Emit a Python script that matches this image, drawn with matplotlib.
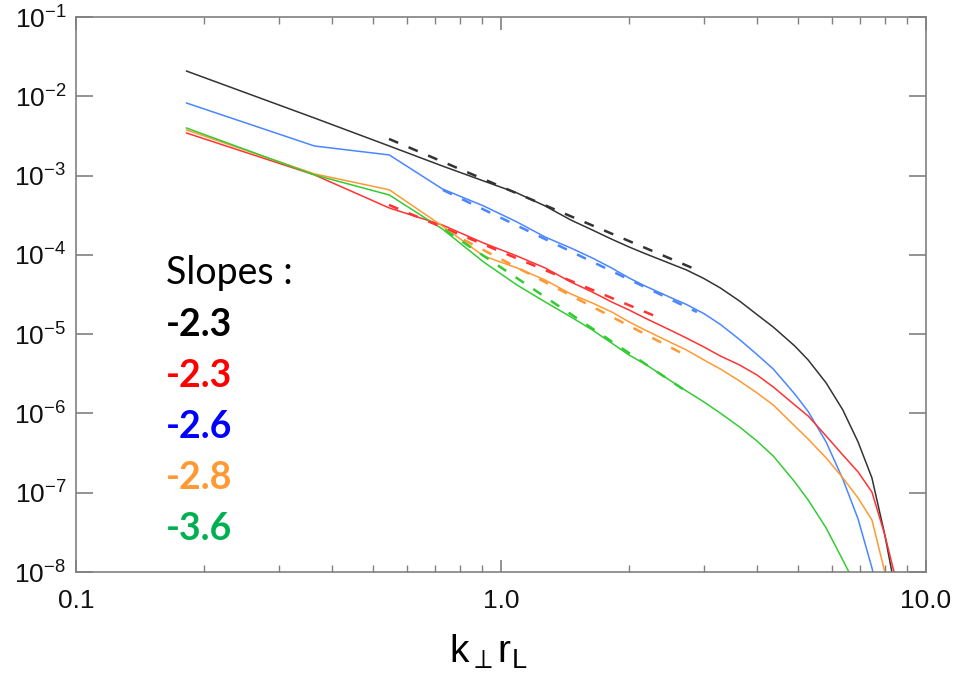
import numpy as np
import matplotlib
matplotlib.use('Agg')
import matplotlib.pyplot as plt

plt.rcParams['font.family'] = ['Liberation Sans', 'DejaVu Sans']
plt.rcParams['mathtext.fontset'] = 'custom'
plt.rcParams['mathtext.rm'] = 'Liberation Sans'
plt.rcParams['mathtext.it'] = 'Liberation Sans'

# k_perp * r_L values
k = [0.182, 0.364, 0.546, 0.728, 0.91, 1.09, 1.27, 1.46, 1.64, 1.82, 2.0, 2.18,
     2.55, 2.73, 3.0, 3.28, 3.64, 4.0, 4.37, 4.91, 5.28, 5.82, 6.37, 6.92, 7.46,
     8.0, 8.45]

black = [2.08e-2, 5.32e-3, 2.36e-3, 1.32e-3, 8.55e-4, 6.04e-4, 4.14e-4, 2.75e-4,
         2.06e-4, 1.58e-4, 1.26e-4, 1.04e-4, 7.46e-5, 6.46e-5, 5.04e-5, 3.83e-5,
         2.62e-5, 1.77e-5, 1.23e-5, 7.10e-6, 4.73e-6, 2.43e-6, 1.11e-6, 4.37e-7,
         1.54e-7, 2.94e-8, 6.3e-9]
blue = [8.22e-3, 2.36e-3, 1.82e-3, 6.78e-4, 4.14e-4, 2.60e-4, 1.68e-4, 1.22e-4,
        9.14e-5, 6.84e-5, 5.12e-5, 4.06e-5, 2.78e-5, 2.37e-5, 1.82e-5, 1.33e-5,
        8.57e-6, 5.55e-6, 3.64e-6, 1.76e-6, 1.06e-6, 4.37e-7, 1.49e-7, 4.68e-8,
        1.13e-8, 2.49e-9]
red = [3.44e-3, 1.02e-3, 3.90e-4, 2.38e-4, 1.41e-4, 9.68e-5, 6.84e-5, 4.55e-5,
       3.40e-5, 2.55e-5, 2.02e-5, 1.60e-5, 1.07e-5, 8.95e-6, 6.90e-6, 5.31e-6,
       4.09e-6, 3.06e-6, 2.16e-6, 1.28e-6, 9.29e-7, 5.20e-7, 3.00e-7, 1.83e-7,
       1.02e-7, 2.94e-8, 9.0e-9]
orange = [3.76e-3, 1.05e-3, 6.61e-4, 2.31e-4, 9.68e-5, 6.84e-5, 4.82e-5, 3.21e-5,
          2.47e-5, 1.91e-5, 1.43e-5, 1.13e-5, 7.52e-6, 6.32e-6, 4.73e-6, 3.64e-6,
          2.57e-6, 1.82e-6, 1.28e-6, 6.95e-7, 4.76e-7, 2.75e-7, 1.54e-7, 8.59e-8,
          4.54e-8, 1.00e-8, 2.5e-9]
green = [3.98e-3, 1.02e-3, 5.69e-4, 2.12e-4, 8.13e-5, 4.17e-5, 2.55e-5, 1.65e-5,
         1.13e-5, 7.74e-6, 5.47e-6, 4.21e-6, 2.43e-6, 1.92e-6, 1.40e-6, 1.01e-6,
         6.76e-7, 4.50e-7, 2.91e-7, 1.37e-7, 8.11e-8, 3.60e-8, 1.42e-8, 5.94e-9]

# power-law fits (dashed), end points
fit_x = {'black': [0.545, 2.89], 'blue': [0.730, 2.89], 'red': [0.545, 2.33],
         'orange': [0.738, 2.71], 'green': [0.738, 2.74]}
fit_y = {'black': [2.9e-3, 6.46e-5], 'blue': [6.58e-4, 1.9e-5], 'red': [4.26e-4, 1.65e-5],
         'orange': [2.06e-4, 5.47e-6], 'green': [2.06e-4, 1.87e-6]}

slopes = ['-2.3', '-2.3', '-2.6', '-2.8', '-3.6']
slope_colors = ['#000000', '#ff0000', '#0000ff', '#ff9933', '#00b050']

xticks = [0.1, 1.0, 10.0]
xticklabels = ['0.1', '1.0', '10.0']
yticks = [1e-8, 1e-7, 1e-6, 1e-5, 1e-4, 1e-3, 1e-2, 1e-1]
yticklabels = [r'$\mathregular{10^{-%d}}$' % n for n in range(8, 0, -1)]

line_colors = {'black': '#333333', 'blue': '#4a86ff', 'red': '#ff3333',
               'orange': '#ff9933', 'green': '#33cc33'}

fig = plt.figure(figsize=(9.56, 6.77), dpi=100)
ax = fig.add_axes([76 / 956, 1 - 572 / 677, 850 / 956, 555 / 677])

series = {'black': black, 'blue': blue, 'red': red, 'orange': orange, 'green': green}
for name in ['black', 'blue', 'red', 'orange', 'green']:
    y = series[name]
    ax.plot(k[:len(y)], y, color=line_colors[name], lw=1.1)
for name in ['black', 'blue', 'red', 'orange', 'green']:
    ax.plot(fit_x[name], fit_y[name], color=line_colors[name], lw=1.8,
            dashes=(4, 4.5))

ax.set_xscale('log')
ax.set_yscale('log')
ax.set_xlim(0.1, 10)
ax.set_ylim(1e-8, 1e-1)
ax.set_xticks(xticks)
ax.set_xticklabels(xticklabels)
ax.set_yticks(yticks)
ax.set_yticklabels(yticklabels)
ax.yaxis.set_minor_locator(matplotlib.ticker.NullLocator())

for s in ax.spines.values():
    s.set_color('#808080')
    s.set_linewidth(1.2)
ax.tick_params(which='both', direction='in', colors='#808080', labelcolor='#111111',
               top=True, right=True, labelsize=19)
ax.tick_params(axis='y', which='major', length=12, width=1.2, pad=7)
ax.tick_params(axis='x', which='major', length=9, width=1.2, pad=12)
ax.tick_params(axis='x', which='minor', length=5, width=1.0)

fig.text(488 / 956, 1 - 652 / 677, r'$\mathregular{k_{\perp}r_{L}}$', fontsize=28,
         ha='center', va='center')

fig.text(166 / 956, 1 - 284 / 677, 'Slopes :', fontsize=27, family=['Lato', 'DejaVu Sans'],
         ha='left', va='baseline')
for i in range(len(slopes)):
    fig.text(166 / 956, 1 - (336 + 51 * i) / 677, slopes[i], fontsize=27,
             family=['Lato', 'DejaVu Sans'], fontweight='bold', color=slope_colors[i],
             ha='left', va='baseline')

fig.savefig('out.png', dpi=100)
